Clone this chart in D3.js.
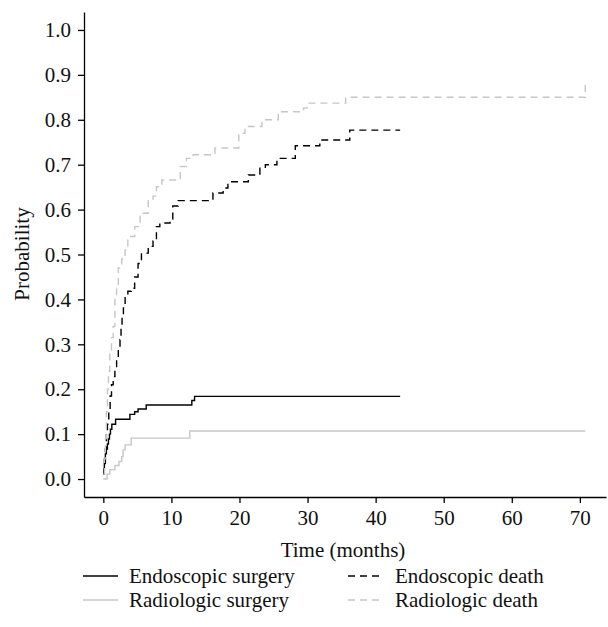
<!DOCTYPE html>
<html>
<head>
<meta charset="utf-8">
<script src="https://cdn.jsdelivr.net/npm/d3@7"></script>
<style>
  body { margin: 0; background: #fff; }
  text { font-family: "Liberation Serif", "DejaVu Serif", serif; }
</style>
</head>
<body>
<div id="chart"></div>
<script>
/* Data: step points (time in months, cumulative probability) */
const endoSurgT = [0, 0.05, 0.15, 0.3, 0.45, 0.6, 0.75, 0.9, 1.05, 1.25, 1.8, 3.9, 4.6, 5.1, 6.3, 13.0, 13.4, 43.6]
const endoSurgP = [0.011, 0.022, 0.044, 0.056, 0.067, 0.078, 0.089, 0.1, 0.111, 0.122, 0.133, 0.144, 0.15, 0.156, 0.165, 0.175, 0.184, 0.184]

const radioSurgT = [0, 0.56, 0.96, 1.7, 2.3, 2.7, 2.9, 3.2, 4.1, 12.7, 70.8]
const radioSurgP = [0, 0.011, 0.021, 0.03, 0.039, 0.05, 0.065, 0.076, 0.091, 0.107, 0.107]

const endoDeathT = [0, 0.15, 0.3, 0.45, 0.6, 0.8, 1.0, 1.2, 1.45, 1.7, 1.95, 2.2, 2.45, 2.6, 2.75, 2.95, 3.2, 3.6, 4.1, 4.6, 5.1, 5.6, 6.6, 7.3, 7.8, 8.3, 9.8, 10.2, 11.0, 16.1, 17.6, 18.3, 21.3, 23.0, 23.8, 25.5, 28.2, 31.8, 36.2, 43.6]
const endoDeathP = [0.011, 0.033, 0.067, 0.1, 0.122, 0.155, 0.185, 0.21, 0.228, 0.245, 0.265, 0.29, 0.31, 0.34, 0.365, 0.39, 0.41, 0.418, 0.425, 0.45, 0.48, 0.503, 0.518, 0.53, 0.562, 0.57, 0.579, 0.608, 0.62, 0.637, 0.648, 0.662, 0.677, 0.692, 0.7, 0.714, 0.742, 0.755, 0.777, 0.777]

const radioDeathT = [0, 0.15, 0.3, 0.45, 0.6, 0.75, 0.95, 1.2, 1.45, 1.7, 1.95, 2.2, 2.7, 3.2, 3.6, 4.6, 5.4, 6.6, 7.3, 7.8, 8.6, 11.3, 12.2, 13.2, 16.4, 19.9, 20.8, 23.3, 25.7, 29.4, 29.9, 35.6, 70.8]
const radioDeathP = [0.011, 0.045, 0.09, 0.15, 0.2, 0.24, 0.288, 0.315, 0.34, 0.4, 0.425, 0.47, 0.49, 0.51, 0.54, 0.562, 0.592, 0.62, 0.63, 0.651, 0.666, 0.696, 0.714, 0.722, 0.737, 0.77, 0.785, 0.8, 0.818, 0.826, 0.837, 0.85, 0.885]

const xTicks = [0, 10, 20, 30, 40, 50, 60, 70]
const yTicks = [0, 0.1, 0.2, 0.3, 0.4, 0.5, 0.6, 0.7, 0.8, 0.9, 1.0]

const series = [
  { name: "Endoscopic surgery", t: endoSurgT, p: endoSurgP, color: "#000", dash: null },
  { name: "Radiologic surgery", t: radioSurgT, p: radioSurgP, color: "#c6c6c6", dash: null },
  { name: "Endoscopic death", t: endoDeathT, p: endoDeathP, color: "#000", dash: "7,5" },
  { name: "Radiologic death", t: radioDeathT, p: radioDeathP, color: "#c6c6c6", dash: "7,5" }
]

/* Dimensions */
const width = 608
const height = 627
const fontSize = "21px"

const svg = d3.select("#chart").append("svg")
    .attr("width", width)
    .attr("height", height)

/* Scales (R style 4% padding) */
const xScale = d3.scaleLinear()
    .domain([-2.84, 73.84])
    .range([84, 606])

const yScale = d3.scaleLinear()
    .domain([-0.04, 1.04])
    .range([497, 12])

/* Curves */
const lineGen = d3.line()
    .x(d => xScale(d[0]))
    .y(d => yScale(d[1]))
    .curve(d3.curveStepAfter)

series.forEach(s => {
  const pts = s.t.map((t, i) => [t, s.p[i]])
  svg.append("path")
      .datum(pts)
      .attr("d", lineGen)
      .attr("fill", "none")
      .attr("stroke", s.color)
      .attr("stroke-width", 1.4)
      .attr("stroke-dasharray", s.dash)
})

/* Axes */
const xAxis = svg.append("g")
    .attr("transform", `translate(0, ${yScale.range()[0]})`)
    .call(d3.axisBottom(xScale).tickValues(xTicks).tickSize(6).tickSizeOuter(0).tickPadding(7))
xAxis.selectAll("text").style("font-size", fontSize).attr("fill", "#111")

const yAxis = svg.append("g")
    .attr("transform", `translate(${xScale.range()[0]}, 0)`)
    .call(d3.axisLeft(yScale).tickValues(yTicks).tickFormat(d3.format(".1f")).tickSize(6).tickSizeOuter(0).tickPadding(7))
yAxis.selectAll("text").style("font-size", fontSize).attr("fill", "#111")

svg.selectAll(".domain, .tick line").attr("stroke", "#000").attr("stroke-width", 1.3)

/* Axis titles */
svg.append("text")
    .attr("x", 343)
    .attr("y", 557)
    .attr("text-anchor", "middle")
    .style("font-size", fontSize)
    .attr("fill", "#111")
    .text("Time (months)")

svg.append("text")
    .attr("transform", `translate(29, 254) rotate(-90)`)
    .attr("text-anchor", "middle")
    .style("font-size", fontSize)
    .attr("fill", "#111")
    .text("Probability")

/* Legend */
const legendPos = [
  { x: 83, y: 576 },
  { x: 83, y: 600 },
  { x: 348, y: 576 },
  { x: 348, y: 600 }
]
series.forEach((s, i) => {
  const g = svg.append("g").attr("transform", `translate(${legendPos[i].x}, ${legendPos[i].y})`)
  g.append("line")
      .attr("x1", 0).attr("x2", 35)
      .attr("y1", 0).attr("y2", 0)
      .attr("stroke", s.color)
      .attr("stroke-width", 1.4)
      .attr("stroke-dasharray", s.dash)
  g.append("text")
      .attr("x", i < 2 ? 46 : 47)
      .attr("y", 0)
      .attr("dy", "0.32em")
      .style("font-size", fontSize)
      .attr("fill", "#111")
      .text(s.name)
})
</script>
</body>
</html>
